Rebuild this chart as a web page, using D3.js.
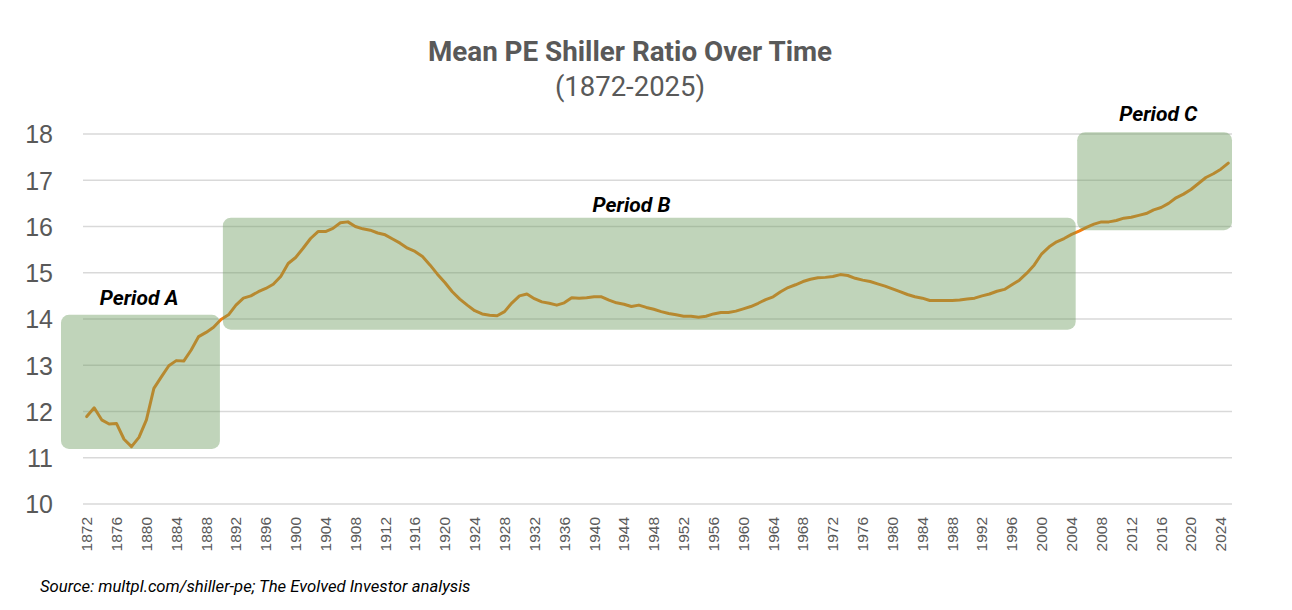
<!DOCTYPE html>
<html>
<head>
<meta charset="utf-8">
<script src="https://cdn.jsdelivr.net/npm/d3@7/dist/d3.min.js"></script>
<style>
  html, body { margin: 0; padding: 0; background: #ffffff; }
  svg { display: block; }
</style>
</head>
<body>
<svg id="chart" width="1292" height="610"></svg>
<script>
// ---------- DATA ----------
const startYear = 1872;
const endYear = 2025;
const years = d3.range(startYear, endYear + 1);

const meanPE = [
  11.89, 12.08, 11.82, 11.73, 11.74, 11.40, 11.24, 11.44, 11.82, 12.50, // 1872-1881
  12.75, 12.99, 13.10, 13.09, 13.33, 13.62, 13.71, 13.82, 13.99, 14.09, // 1882-1891
  14.30, 14.45, 14.50, 14.59, 14.66, 14.75, 14.92, 15.20, 15.33, 15.53, // 1892-1901
  15.74, 15.89, 15.89, 15.96, 16.08, 16.10, 16.00, 15.95, 15.92, 15.86, // 1902-1911
  15.82, 15.73, 15.64, 15.53, 15.46, 15.35, 15.17, 14.97, 14.79, 14.59, // 1912-1921
  14.43, 14.30, 14.18, 14.11, 14.08, 14.07, 14.16, 14.35, 14.50, 14.54, // 1922-1931
  14.44, 14.37, 14.34, 14.30, 14.35, 14.46, 14.45, 14.46, 14.48, 14.48, // 1932-1941
  14.41, 14.35, 14.32, 14.27, 14.30, 14.25, 14.21, 14.16, 14.12, 14.09, // 1942-1951
  14.06, 14.06, 14.04, 14.06, 14.11, 14.14, 14.14, 14.17, 14.22, 14.27, // 1952-1961
  14.34, 14.42, 14.48, 14.59, 14.68, 14.74, 14.81, 14.86, 14.89, 14.90, // 1962-1971
  14.92, 14.96, 14.94, 14.88, 14.84, 14.81, 14.76, 14.71, 14.65, 14.59, // 1972-1981
  14.53, 14.48, 14.45, 14.40, 14.40, 14.40, 14.40, 14.41, 14.43, 14.45, // 1982-1991
  14.50, 14.54, 14.60, 14.64, 14.74, 14.84, 14.99, 15.17, 15.41, 15.56, // 1992-2001
  15.67, 15.74, 15.83, 15.90, 15.98, 16.05, 16.10, 16.10, 16.13, 16.18, // 2002-2011
  16.20, 16.24, 16.28, 16.36, 16.41, 16.50, 16.62, 16.70, 16.80, 16.93, // 2012-2021
  17.06, 17.14, 17.24, 17.37                                            // 2022-2025
];

const yTicks = [10, 11, 12, 13, 14, 15, 16, 17, 18];
const xTickYears = years.filter(y => (y - startYear) % 4 === 0);

// Period boxes (in data units: fractional years, PE values)
const periodNames = ["Period A", "Period B", "Period C"];
const periodFrom  = [1869.05, 1890.75, 2005.25];
const periodTo    = [1890.35, 2005.05, 2026.0];
const periodLow   = [11.19, 13.77, 15.92];
const periodHigh  = [14.09, 16.19, 18.04];

const titleText = "Mean PE Shiller Ratio Over Time";
const subtitleText = "(1872-2025)";
const sourceText = "Source: multpl.com/shiller-pe; The Evolved Investor analysis";

// ---------- LAYOUT ----------
const svg = d3.select("#chart");
const plotLeft = 83, plotRight = 1232, plotTop = 134, plotBottom = 504;

const x = d3.scaleBand().domain(years).range([plotLeft, plotRight]).paddingInner(0).paddingOuter(0);
const xYear = d3.scaleLinear().domain([startYear, endYear + 1]).range([plotLeft, plotRight]);
const y = d3.scaleLinear().domain([10, 18]).range([plotBottom, plotTop]);

const grey = "#595959";

// Gridlines
svg.append("g")
  .selectAll("line")
  .data(yTicks)
  .join("line")
  .attr("x1", plotLeft).attr("x2", plotRight)
  .attr("y1", d => y(d)).attr("y2", d => y(d))
  .attr("stroke", "#d9d9d9")
  .attr("stroke-width", 1.5);

// Y axis labels
const yAxis = d3.axisLeft(y).tickValues(yTicks).tickSize(0).tickPadding(0).tickFormat(d3.format("d"));
const yg = svg.append("g").attr("transform", "translate(53,0)").call(yAxis);
yg.select(".domain").remove();
yg.selectAll("text")
  .attr("font-family", "'Liberation Sans', Arial, sans-serif")
  .attr("font-size", 25)
  .attr("fill", grey)
  .attr("dy", "0.35em");

// X axis labels
const xAxis = d3.axisBottom(x).tickValues(xTickYears).tickSize(0).tickPadding(0);
const xg = svg.append("g").attr("transform", `translate(0,${plotBottom})`).call(xAxis);
xg.select(".domain").remove();
xg.selectAll("text")
  .attr("font-family", "'Liberation Sans', Arial, sans-serif")
  .attr("font-size", 15.5)
  .attr("fill", grey)
  .attr("text-anchor", "end")
  .attr("transform", "translate(0,13) rotate(-90)")
  .attr("x", 0)
  .attr("y", 0)
  .attr("dy", "0.35em");

// Line
const line = d3.line()
  .x((d, i) => x(years[i]) + x.bandwidth() / 2)
  .y(d => y(d));

svg.append("path")
  .datum(meanPE)
  .attr("d", line)
  .attr("fill", "none")
  .attr("stroke", "#F07F12")
  .attr("stroke-width", 3)
  .attr("stroke-linejoin", "round")
  .attr("stroke-linecap", "round");

// Period boxes
const periods = periodNames.map((n, i) => ({
  name: n, from: periodFrom[i], to: periodTo[i], lo: periodLow[i], hi: periodHigh[i]
}));

svg.append("g")
  .selectAll("rect")
  .data(periods)
  .join("rect")
  .attr("x", d => xYear(d.from))
  .attr("width", d => xYear(d.to) - xYear(d.from))
  .attr("y", d => y(d.hi))
  .attr("height", d => y(d.lo) - y(d.hi))
  .attr("rx", 8)
  .attr("fill", "rgb(105,153,91)")
  .attr("fill-opacity", 0.42);

// Period labels
const labelX = [139, 631.5, 1158.3];
const labelY = [304.5, 211.5, 121];
svg.append("g")
  .selectAll("text")
  .data(periods)
  .join("text")
  .attr("x", (d, i) => labelX[i])
  .attr("y", (d, i) => labelY[i])
  .attr("text-anchor", "middle")
  .attr("font-family", "Roboto, 'Liberation Sans', sans-serif")
  .attr("font-weight", "bold")
  .attr("font-style", "italic")
  .attr("font-size", 21)
  .attr("fill", "#000000")
  .text(d => d.name);

// Title
svg.append("text")
  .attr("x", 630).attr("y", 61)
  .attr("text-anchor", "middle")
  .attr("font-family", "Roboto, 'Liberation Sans', sans-serif")
  .attr("font-weight", "bold")
  .attr("font-size", 27.8)
  .attr("fill", grey)
  .text(titleText);

svg.append("text")
  .attr("x", 630).attr("y", 96)
  .attr("text-anchor", "middle")
  .attr("font-family", "Roboto, 'Liberation Sans', sans-serif")
  .attr("font-size", 27.5)
  .attr("fill", grey)
  .text(subtitleText);

// Source
svg.append("text")
  .attr("x", 40).attr("y", 592)
  .attr("font-family", "Roboto, 'Liberation Sans', sans-serif")
  .attr("font-style", "italic")
  .attr("font-size", 16.7)
  .attr("fill", "#000000")
  .text(sourceText);
</script>
</body>
</html>
